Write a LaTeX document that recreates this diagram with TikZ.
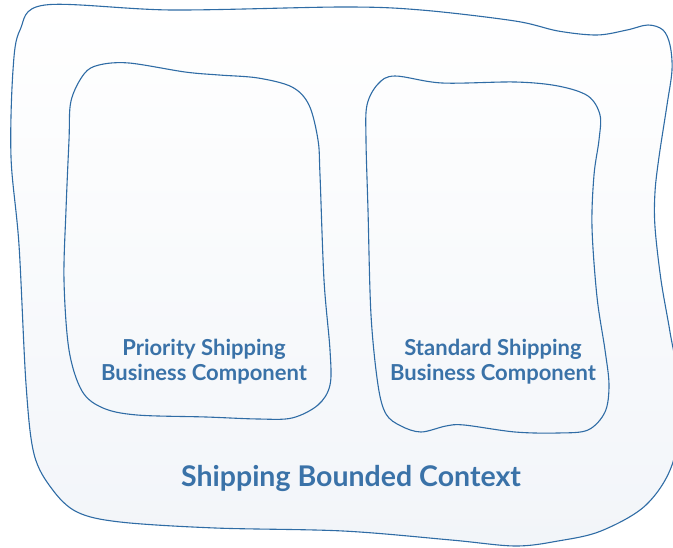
\documentclass[tikz,border=0pt]{standalone}
\usepackage{fontspec}
\setmainfont{Lato}
\definecolor{edge}{HTML}{2F6CA5}
\definecolor{ink}{HTML}{3A72A8}
\definecolor{bot}{HTML}{F2F5F9}
\begin{document}
\begin{tikzpicture}[x=1pt,y=-1pt,
  blob/.style={draw=edge, line width=1.1pt},
  lbl/.style={text=ink, font=\bfseries\fontsize{22}{25}\selectfont, align=center, inner sep=0pt},
  ttl/.style={text=ink, font=\bfseries\fontsize{28.5}{30}\selectfont, inner sep=0pt}]
\useasboundingbox (0,0) rectangle (673,548);
\clip (0,0) rectangle (673,548);
% outer bounded context
\path[blob, top color=white, bottom color=bot] plot[smooth cycle, tension=0.55] coordinates {
 (45,5) (172,10) (343,7) (421,10) (515,21) (558,31) (597,35) (627,30) (648,25) (663,30)
 (670,45) (672,70) (667,105) (659,157) (655,192) (655,227) (661,280) (670,332) (680,395)
 (673,462) (646,505) (601,531) (558,541) (515,546) (451,540) (343,531) (215,528) (120,522)
 (77,512) (52,489) (34,454) (26,384) (19,245) (11,157) (13,70) (20,30)};
% priority component
\draw[blob] plot[smooth cycle, tension=0.55] coordinates {
 (99,65) (129,63) (185,72) (219,75) (258,78) (292,87) (309,105) (318,140) (320,175)
 (324,280) (330,350) (330,385) (318,405) (292,418) (258,419) (206,417) (137,415)
 (103,408) (82,391) (69,350) (64,280) (66,210) (69,140) (71,101) (84,74)};
% standard component
\draw[blob] plot[smooth cycle, tension=0.55] coordinates {
 (395,76) (442,83) (515,82) (558,86) (588,96) (600,115) (599,140) (594,175) (592,227)
 (597,297) (605,350) (609,385) (605,412) (588,430) (558,433) (515,432) (464,425)
 (446,426) (421,432) (401,426) (386,414) (378,385) (371,315) (368,210) (366,140)
 (367,105) (378,84)};
\node[lbl] (prio) at (204,362) {Priority Shipping\\Business Component};
\node[lbl] (std) at (493,362) {Standard Shipping\\Business Component};
\node[ttl] (ctx) at (351,478) {Shipping Bounded Context};
\end{tikzpicture}
\end{document}
